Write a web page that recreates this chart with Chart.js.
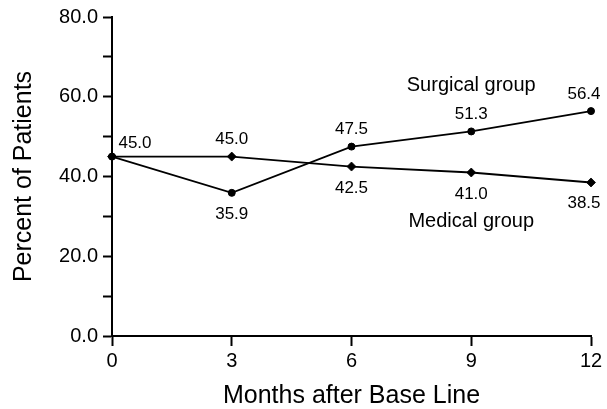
<!DOCTYPE html>
<html>
<head>
<meta charset="utf-8">
<title>Percent of Patients by Month</title>
<script src="https://cdn.jsdelivr.net/npm/chart.js@4/dist/chart.umd.min.js"></script>
<style>
  html, body { margin: 0; padding: 0; background: #fff; }
  #wrap { width: 607px; height: 409px; }
</style>
</head>
<body>
<div id="wrap"><canvas id="c" width="607" height="409"></canvas></div>
<script>
// Months after base line and percent of patients in each group
const months = [0, 3, 6, 9, 12];
const surgicalPct = [45.0, 35.9, 47.5, 51.3, 56.4];
const medicalPct = [45.0, 45.0, 42.5, 41.0, 38.5];
const yTickValues = [0, 20, 40, 60, 80];
const groupNames = ['Surgical group', 'Medical group'];

const FONT = '"Liberation Sans", Arial, Helvetica, sans-serif';
Chart.defaults.font.family = FONT;
Chart.defaults.color = '#000';

const toPoints = (xs, ys) => xs.map((x, i) => ({ x: x, y: ys[i] }));

// Writes each point's value next to its marker, plus the group names
const valueLabels = {
  id: 'valueLabels',
  afterDatasetsDraw(chart, args, opts) {
    const ctx = chart.ctx;
    ctx.save();
    ctx.fillStyle = '#000';
    ctx.textAlign = 'center';
    ctx.textBaseline = 'alphabetic';
    ctx.font = '17px ' + FONT;
    chart.data.datasets.forEach((ds, di) => {
      const meta = chart.getDatasetMeta(di);
      meta.data.forEach((pt, i) => {
        const side = ds.labelSides[i];
        if (!side) return;
        const off = opts.offsets[side];
        let dx = off.dx;
        if (i === meta.data.length - 1) dx += opts.lastShift;
        ctx.fillText(ds.data[i].y.toFixed(1), pt.x + dx, pt.y + off.dy);
      });
    });
    const xs = chart.scales.x, ys = chart.scales.y;
    ctx.font = '20px ' + FONT;
    opts.names.forEach(n => {
      ctx.fillText(n.text, xs.getPixelForValue(n.x), ys.getPixelForValue(n.y));
    });
    ctx.restore();
  }
};

new Chart(document.getElementById('c'), {
  type: 'line',
  data: {
    datasets: [
      {
        label: groupNames[0],
        data: toPoints(months, surgicalPct),
        labelSides: ['right', 'below', 'above', 'above', 'above'],
        order: 1,
        borderColor: '#000',
        borderWidth: 1.8,
        pointStyle: 'circle',
        pointRadius: 3.5,
        pointBorderWidth: 1,
        pointBackgroundColor: '#000',
        pointBorderColor: '#000',
        tension: 0,
        clip: false
      },
      {
        label: groupNames[1],
        data: toPoints(months, medicalPct),
        labelSides: [null, 'above', 'below', 'below', 'below'],
        order: 0,
        borderColor: '#000',
        borderWidth: 1.8,
        pointStyle: 'rectRot',
        pointRadius: 4.5,
        pointBorderWidth: 0.8,
        pointBackgroundColor: '#000',
        pointBorderColor: '#000',
        tension: 0,
        clip: false
      }
    ]
  },
  options: {
    responsive: false,
    animation: false,
    events: [],
    layout: { padding: { top: 16, right: 16, bottom: 0, left: 0 } },
    plugins: {
      legend: { display: false },
      tooltip: { enabled: false },
      valueLabels: {
        offsets: {
          above: { dx: 0, dy: -12.5 },
          below: { dx: 0, dy: 26 },
          right: { dx: 23, dy: -8.5 }
        },
        lastShift: -7,
        names: [
          { text: groupNames[0], x: 9, y: 61.5 },
          { text: groupNames[1], x: 9, y: 27.3 }
        ]
      }
    },
    scales: {
      x: {
        type: 'linear',
        min: months[0],
        max: months[months.length - 1],
        afterFit(s) { s.height = 73; },
        afterBuildTicks(s) { s.ticks = months.map(v => ({ value: v })); },
        ticks: {
          color: '#000',
          font: { size: 20 },
          padding: 3,
          maxRotation: 0,
          autoSkip: false,
          callback: v => String(v)
        },
        grid: {
          display: true,
          drawOnChartArea: false,
          drawTicks: true,
          tickLength: 10,
          tickColor: '#000',
          tickWidth: 2
        },
        border: { display: true, color: '#000', width: 2 },
        title: {
          display: true,
          text: 'Months after Base Line',
          color: '#000',
          font: { size: 25, lineHeight: 1 },
          padding: 0
        }
      },
      y: {
        type: 'linear',
        min: yTickValues[0],
        max: yTickValues[yTickValues.length - 1],
        afterFit(s) { s.width = 112; },
        ticks: {
          stepSize: 10,
          color: '#000',
          font: { size: 20 },
          padding: 5,
          autoSkip: false,
          callback: v => (yTickValues.includes(v) ? v.toFixed(1) : '')
        },
        grid: {
          display: true,
          drawOnChartArea: false,
          drawTicks: true,
          tickLength: 9,
          tickColor: '#000',
          tickWidth: 2
        },
        border: { display: true, color: '#000', width: 2 },
        title: {
          display: true,
          text: 'Percent of Patients',
          color: '#000',
          font: { size: 25, lineHeight: 1.2 },
          padding: { top: 9, bottom: 0 }
        }
      }
    }
  },
  plugins: [valueLabels]
});
</script>
</body>
</html>
